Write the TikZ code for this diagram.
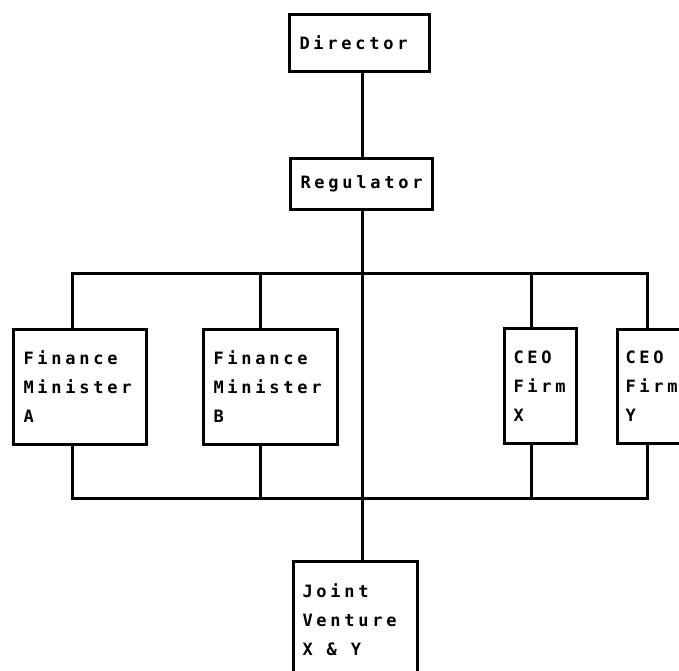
\documentclass[tikz,border=0pt]{standalone}
\usepackage{fontspec}
\newfontfamily\boxface[LetterSpace=22]{DejaVu Sans Mono Bold}
\newcommand{\boxfont}{\boxface\fontsize{17}{29}\selectfont}
\begin{document}
\begin{tikzpicture}[x=1pt,y=-1pt,
  box/.style={draw,line width=3pt,anchor=north west,align=left,inner xsep=10pt,inner ysep=2pt,font=\boxfont},
  link/.style={line width=3pt}]
\useasboundingbox (0,0) rectangle (679,670);
\node[box,text width=120pt,minimum height=57pt] (dir) at (288,13) {Director};
\node[box,text width=122pt,minimum height=51pt] (reg) at (289,157) {Regulator};
\node[box,text width=113pt,minimum height=115pt] (A) at (12,328) {Finance\\Minister\\A};
\node[box,text width=114pt,minimum height=115pt] (B) at (202,328) {Finance\\Minister\\B};
\node[box,text width=54pt,minimum height=115pt,inner xsep=9pt] (X) at (503,327) {CEO\\Firm\\X};
\node[box,text width=54pt,minimum height=114pt,inner xsep=8pt] (Y) at (616,328) {CEO\\Firm\\Y};
\node[box,text width=106pt,minimum height=116pt,inner xsep=9pt] (jv) at (292,560) {Joint\\Venture\\X\hspace{14pt}\&\hspace{14pt}Y};
\coordinate (tl) at (72,273);
\coordinate (tr) at (647,273);
\coordinate (bl) at (72,498);
\coordinate (br) at (647,498);
\coordinate (bx) at (260,0);
\coordinate (xx) at (531,0);
\coordinate (sx) at (362,0);
\draw[link] (dir.south -| sx) -- (reg.north -| sx);
\draw[link] (reg.south -| sx) -- (jv.north -| sx);
\draw[link] (tl |- A.north) -- (tl) -- (tr) -- (tr |- Y.north);
\draw[link] (bl |- A.south) -- (bl) -- (br) -- (br |- Y.south);
\draw[link] (B.north -| bx) -- (tl -| bx);
\draw[link] (B.south -| bx) -- (bl -| bx);
\draw[link] (X.north -| xx) -- (tl -| xx);
\draw[link] (X.south -| xx) -- (bl -| xx);
\end{tikzpicture}
\end{document}
